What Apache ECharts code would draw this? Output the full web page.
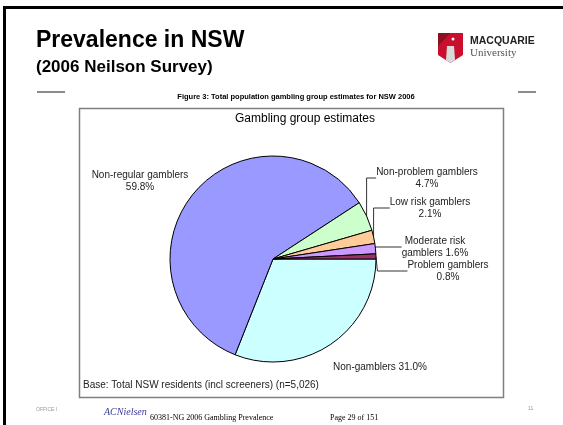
<!DOCTYPE html>
<html>
<head>
<meta charset="utf-8">
<script src="https://cdn.jsdelivr.net/npm/echarts@6/dist/echarts.min.js"></script>
<style>
html,body{margin:0;padding:0;background:#fff;}
#chart{width:563px;height:425px;}
</style>
</head>
<body>
<div id="chart"></div>
<script>
// ---- data ----
const categories = ['Non-gamblers', 'Non-regular gamblers', 'Non-problem gamblers', 'Low risk gamblers', 'Moderate risk gamblers', 'Problem gamblers'];
const values = [31.0, 59.8, 4.7, 2.1, 1.6, 0.8];
const labelTemplates = ['Non-gamblers {v}%', 'Non-regular gamblers\n{v}%', 'Non-problem gamblers\n{v}%', 'Low risk gamblers\n{v}%', 'Moderate risk\ngamblers {v}%', 'Problem gamblers\n{v}%'];

// ---- styles ----
const colors = ['#CCFFFF', '#9999FF', '#CCFFCC', '#FFCC99', '#CC99FF', '#993366'];
const labelPos = [[380, 367], [140, 181], [427, 178], [430, 208], [435, 247], [448, 271]];
const showLine = [false, false, true, true, true, true];

const chart = echarts.init(document.getElementById('chart'), null, {renderer: 'canvas'});
const FONT = '"Liberation Sans", Arial, sans-serif';
const SERIF = '"Liberation Serif", "DejaVu Serif", serif';

const option = {
  animation: false,
  backgroundColor: '#fff',
  title: {
    text: 'Gambling group estimates',
    left: 300, top: 108, textAlign: 'center',
    textStyle: {fontFamily: FONT, fontSize: 12, fontWeight: 'normal', color: '#000'}
  },
  graphic: [
    {type: 'rect', shape: {x: 3, y: 6, width: 560, height: 3}, style: {fill: '#000'}},
    {type: 'rect', shape: {x: 3, y: 6, width: 3, height: 419}, style: {fill: '#000'}},
    {type: 'text', x: 36, y: 29, style: {text: 'Prevalence in NSW', font: 'bold 23px ' + FONT, fill: '#000'}},
    {type: 'text', x: 36, y: 59, style: {text: '(2006 Neilson Survey)', font: 'bold 17px ' + FONT, fill: '#000'}},
    {type: 'line', shape: {x1: 37, y1: 92, x2: 65, y2: 92}, style: {stroke: '#666', lineWidth: 1.5}},
    {type: 'line', shape: {x1: 518, y1: 92, x2: 536, y2: 92}, style: {stroke: '#666', lineWidth: 1.5}},
    {type: 'text', x: 296, y: 97, style: {text: 'Figure 3: Total population gambling group estimates for NSW 2006', font: 'bold 7.5px ' + FONT, fill: '#000', align: 'center', verticalAlign: 'middle'}},
    {type: 'rect', shape: {x: 79.5, y: 108.5, width: 424, height: 289}, style: {fill: 'none', stroke: '#808080', lineWidth: 1.5}},
    {type: 'text', x: 83, y: 385, style: {text: 'Base: Total NSW residents (incl screeners) (n=5,026)', font: '10px ' + FONT, fill: '#222', verticalAlign: 'middle'}},
    // Macquarie logo
    {type: 'polygon', shape: {points: [[438, 33], [463, 33], [463, 55], [450.5, 63], [438, 55]]}, style: {fill: '#C8102E'}},
    {type: 'polygon', shape: {points: [[438, 33], [450.5, 33], [438, 46]]}, style: {fill: '#8E0F22'}},
    {type: 'polygon', shape: {points: [[447, 46], [454, 46], [455, 60], [450.5, 63], [446, 60]]}, style: {fill: '#d9d9d9'}},
    {type: 'circle', shape: {cx: 453, cy: 39, r: 1.5}, style: {fill: '#fff'}},
    {type: 'text', x: 470, y: 41, style: {text: 'MACQUARIE', font: 'bold 10.5px ' + FONT, fill: '#222', verticalAlign: 'middle'}},
    {type: 'text', x: 470, y: 53, style: {text: 'University', font: '11px ' + SERIF, fill: '#555', verticalAlign: 'middle'}},
    // footer
    {type: 'text', x: 36, y: 410, style: {text: 'OFFICE I', font: '5px ' + FONT, fill: '#999', verticalAlign: 'middle'}},
    {type: 'text', x: 104, y: 412, style: {text: 'ACNielsen', font: 'italic 10px ' + SERIF, fill: '#3a3a9a', verticalAlign: 'middle'}},
    {type: 'text', x: 150, y: 418, style: {text: '60381-NG 2006 Gambling Prevalence', font: '8px ' + SERIF, fill: '#000', verticalAlign: 'middle'}},
    {type: 'text', x: 330, y: 418, style: {text: 'Page 29 of 151', font: '8px ' + SERIF, fill: '#000', verticalAlign: 'middle'}},
    {type: 'text', x: 528, y: 409, style: {text: '11', font: '5px ' + FONT, fill: '#999', verticalAlign: 'middle'}}
  ],
  series: [{
    type: 'pie',
    center: [273, 259],
    radius: 103,
    startAngle: 0,
    clockwise: true,
    avoidLabelOverlap: false,
    itemStyle: {borderColor: '#000', borderWidth: 1},
    label: {
      show: true, position: 'outside',
      fontFamily: FONT, fontSize: 10, color: '#222', lineHeight: 12, align: 'center',
      formatter: p => labelTemplates[p.dataIndex].replace('{v}', values[p.dataIndex].toFixed(1))
    },
    labelLine: {show: true, lineStyle: {color: '#333', width: 1}},
    labelLayout: p => ({x: labelPos[p.dataIndex][0], y: labelPos[p.dataIndex][1], align: 'center', verticalAlign: 'middle'}),
    emphasis: {disabled: true},
    data: categories.map((c, i) => ({
      name: c, value: values[i],
      itemStyle: {color: colors[i]},
      labelLine: {show: showLine[i]}
    }))
  }]
};
chart.setOption(option);
</script>
</body>
</html>
